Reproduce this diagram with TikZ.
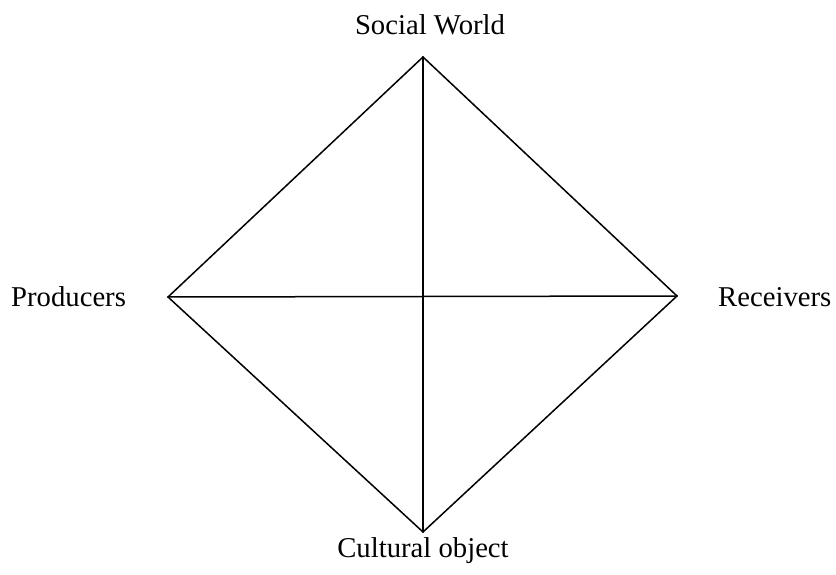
\documentclass[tikz,border=0pt]{standalone}
\usepackage{fontspec}
\setmainfont{Liberation Serif}
\usepackage{tikz}
\usepackage{tkz-euclide}

\begin{document}
\begin{tikzpicture}[x=1pt, y=1pt,
    vlabel/.style={inner sep=0pt, anchor=base, font=\fontsize{28.7}{34}\selectfont}]
                \useasboundingbox (0,0) rectangle (836,574);
                \tkzDefPoints{423/517/S, 168/277/P, 677/278/R, 423/42/C}
                \tkzDrawSegments[black, line width=1.5pt](S,P S,R P,C R,C)
                \tkzDrawSegments[black, line width=1.5pt](S,C P,R)
                \node[vlabel] (social) at (430,539) {Social World};
                \node[vlabel, anchor=base west] (producers) at (11,267) {Producers};
                \node[vlabel, anchor=base west] (receivers) at (718,268) {Receivers};
                \node[vlabel] (cultural) at (423,17) {Cultural object};
            \end{tikzpicture}
\end{document}
